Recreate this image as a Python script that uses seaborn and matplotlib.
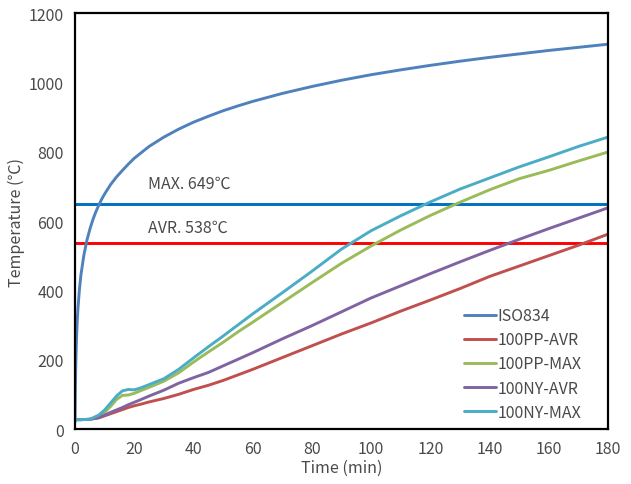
import numpy as np
import pandas as pd
import matplotlib
matplotlib.use("Agg")
import matplotlib.pyplot as plt
import seaborn as sns

# ISO834 standard fire curve
iso_time = [0, 0.1, 0.25, 0.5, 0.75, 1, 1.5, 2, 3, 4, 5, 6, 7, 8, 9, 10, 12,
            14, 16, 18, 20, 25, 30, 35, 40, 45, 50, 55, 60, 70, 80, 90, 100,
            110, 120, 130, 140, 150, 160, 170, 180]
iso_temp = [20, 108, 185, 261, 312, 349, 404, 445, 502, 544, 576, 603, 626,
            645, 663, 678, 705, 727, 746, 764, 781, 815, 842, 865, 885, 902,
            918, 932, 945, 968, 988, 1006, 1022, 1036, 1049, 1061, 1072, 1082,
            1092, 1101, 1110]

# measured curves, common time grid (min)
time = [0, 2, 5, 8, 10, 12, 14, 16, 18, 20, 22, 25, 30, 35, 40, 45, 50, 55,
        60, 70, 80, 90, 100, 110, 120, 130, 140, 150, 160, 170, 180]
pp_avr = [27, 27, 28, 32, 38, 44, 50, 56, 62, 67, 71, 78, 88, 100, 114, 126,
          140, 156, 172, 206, 240, 274, 306, 340, 372, 405, 440, 470, 500, 530, 562]
pp_max = [27, 27, 28, 36, 48, 65, 85, 97, 98, 103, 110, 120, 138, 162, 193,
          222, 250, 280, 308, 365, 422, 478, 528, 574, 616, 654, 690, 722, 746,
          773, 799]
ny_avr = [27, 27, 28, 33, 40, 48, 55, 62, 70, 77, 84, 95, 112, 132, 148, 163,
          182, 201, 220, 260, 298, 338, 378, 413, 448, 482, 515, 547, 578, 608, 638]
ny_max = [27, 27, 28, 40, 55, 75, 95, 110, 114, 113, 118, 128, 145, 172, 205,
          237, 268, 300, 332, 393, 455, 519, 572, 615, 655, 692, 724, 756, 785,
          815, 842]

series_names = ["ISO834", "100PP-AVR", "100PP-MAX", "100NY-AVR", "100NY-MAX"]
colors = ["#4F81BD", "#C0504D", "#9BBB59", "#8064A2", "#4BACC6"]

max_temp = 649
avr_temp = 538

frames = [pd.DataFrame({"time": iso_time, "temp": iso_temp, "series": "ISO834"})]
for name, vals in zip(series_names[1:], [pp_avr, pp_max, ny_avr, ny_max]):
    frames.append(pd.DataFrame({"time": time, "temp": vals, "series": name}))
df = pd.concat(frames, ignore_index=True)

sns.set_style("white")
plt.rcParams["font.family"] = ["Noto Sans CJK KR", "DejaVu Sans"]
txt = "#4a4a4a"
fs = 11.5

fig = plt.figure(figsize=(6.31, 4.85), dpi=100)
ax = fig.add_axes([0.1189, 0.1134, 0.8446, 0.8577])

sns.lineplot(data=df, x="time", y="temp", hue="series", hue_order=series_names,
             palette=colors, linewidth=2.1, estimator=None, sort=False, ax=ax)

ax.axhline(max_temp, color="#0070C0", linewidth=2.1, zorder=1)
ax.axhline(avr_temp, color="#FF0000", linewidth=2.1, zorder=1)
ax.text(24.5, max_temp + 60, f"MAX. {max_temp}℃", fontsize=fs, color=txt, va="center")
ax.text(24.5, avr_temp + 45, f"AVR. {avr_temp}℃", fontsize=fs, color=txt, va="center")

ax.set_xlim(0, 180)
ax.set_ylim(0, 1200)
ax.set_xticks(range(0, 181, 20))
ax.set_yticks(range(0, 1201, 200))
ax.tick_params(direction="in", length=5, width=0.8, colors="#666666",
               labelcolor=txt, labelsize=fs)
ax.tick_params(axis="x", pad=8)
ax.tick_params(axis="y", pad=8)
for side in ["left", "bottom", "top", "right"]:
    ax.spines[side].set_color("black")
    ax.spines[side].set_linewidth(1.6)

ax.set_xlabel("Time (min)", fontsize=fs, color=txt, labelpad=1)
ax.set_ylabel("Temperature (℃)", fontsize=fs, color=txt, labelpad=3)

handles, labels = ax.get_legend_handles_labels()
ax.legend(handles, labels, loc="lower right", frameon=False, fontsize=fs,
          handlelength=2.0, handletextpad=0.1, labelspacing=0.45,
          bbox_to_anchor=(0.977, -0.015), labelcolor=txt)

fig.savefig("out.png", dpi=100)
